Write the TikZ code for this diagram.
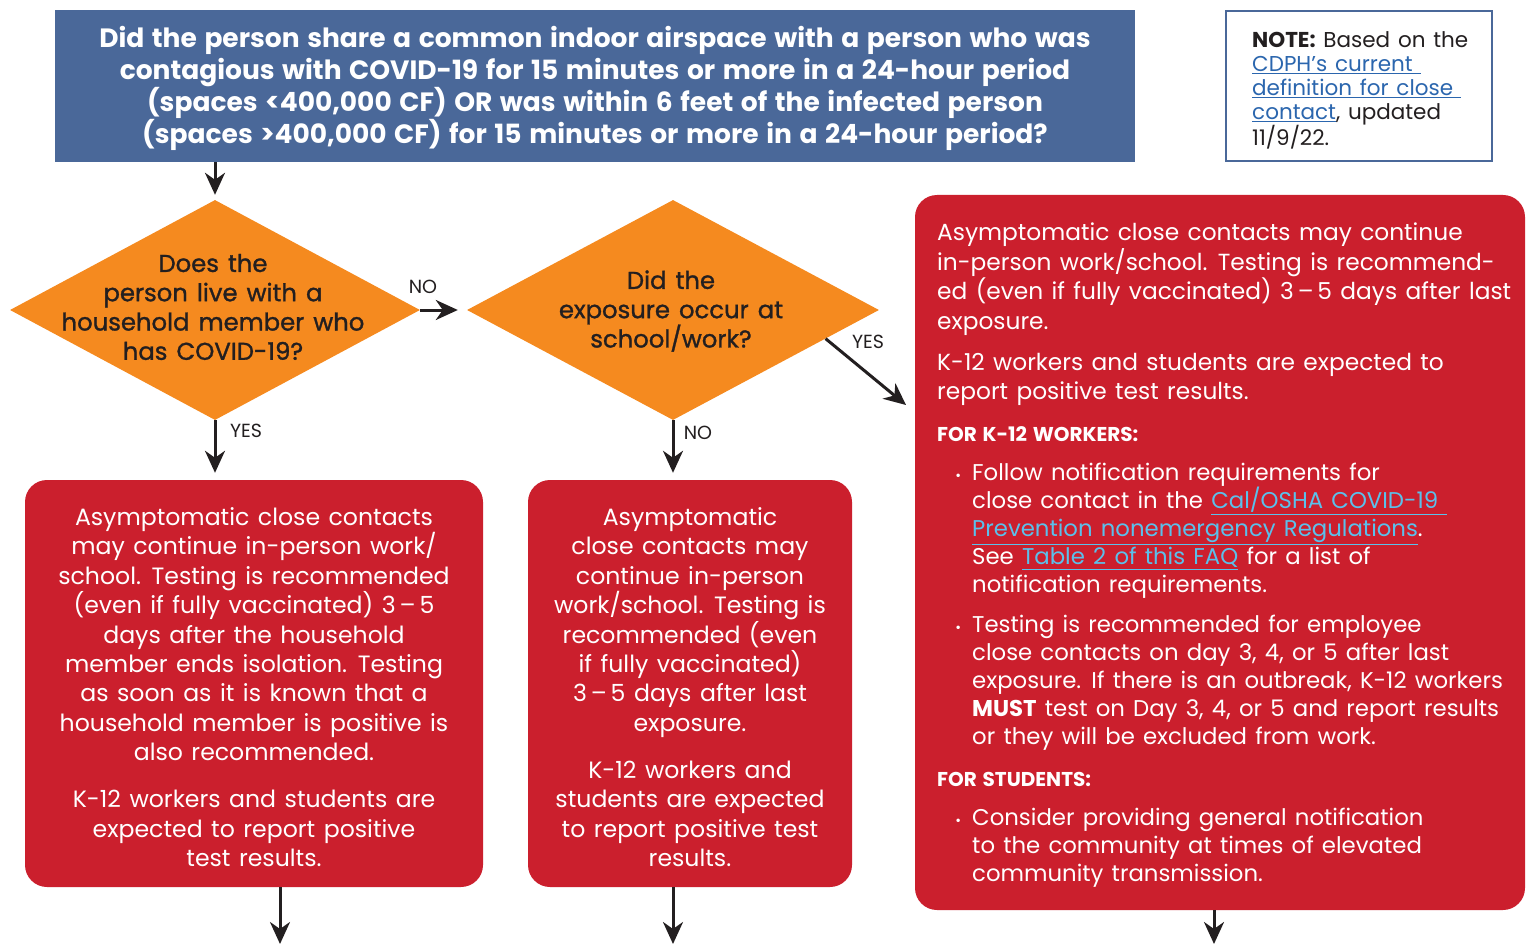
\documentclass[tikz,border=0pt]{standalone}
\usepackage{fontspec}
\setmainfont{Poppins}[WordSpace=1.35]
\newfontfamily\semib[FakeBold=1.2,WordSpace=1.4]{Poppins}
\usetikzlibrary{arrows.meta,shapes.geometric,calc}
\definecolor{tblue}{HTML}{4A6899}
\definecolor{dorange}{HTML}{F58A1F}
\definecolor{rbox}{HTML}{CB1F2D}
\definecolor{ink}{HTML}{231F20}
\definecolor{lnkdark}{HTML}{2B66AE}
\definecolor{lnklight}{HTML}{5BC0EB}
\newcommand\darklink[1]{\textcolor{lnkdark}{\underline{#1}}}
\newcommand\lightlink[1]{\textcolor{lnklight}{\underline{#1}}}
\newcommand\bodyfont{\fontsize{23.6}{29.4}\selectfont}
\newcommand\rightfont{\fontsize{23.3}{29.4}\selectfont}
\newcommand\bulfont{\fontsize{22.8}{28}\selectfont}
\newcommand\rng{3\,–\,5}
\newcommand\mybul{\noindent\llap{{\fontsize{14}{14}\selectfont\textbullet}\hspace{11pt}}}
\newcommand\topstrut{\rule{0pt}{25pt}}
\tikzset{
  titlebox/.style={fill=tblue, text=white, align=center, inner sep=0pt,
    font=\fontsize{26.5}{32}\selectfont\bfseries},
  decision/.style={diamond, fill=dorange, inner sep=0pt},
  dtext/.style={text=ink, align=center, inner sep=0pt, font=\fontsize{24.3}{29.3}\selectfont\semib},
  redbox/.style={fill=rbox, rounded corners=22pt, text=white, align=center, inner sep=0pt,
    font=\bodyfont},
  notebox/.style={draw=tblue, line width=2.5pt, fill=white},
  lbl/.style={text=ink, inner sep=0pt, font=\fontsize{19}{19}\selectfont},
  arr/.style={draw=ink, line width=3pt, -{Stealth[length=22pt,width=20pt,inset=7pt]}},
}
\begin{document}
\begin{tikzpicture}[x=1pt,y=-1pt]
\useasboundingbox (0,0) rectangle (1534,944);

% title
\node[titlebox, minimum width=1080pt, minimum height=152pt] (title) at (595,86)
 {\rule{0pt}{26pt}Did the person share a common indoor airspace with a person who was\\
  contagious with COVID-19 for 15 minutes or more in a 24-hour period\\
  (spaces <400,000 CF) OR was within 6 feet of the infected person\\
  (spaces >400,000 CF) for 15 minutes or more in a 24-hour period?};

% note
\node[notebox, minimum width=266pt, minimum height=150pt] (note) at (1359,86) {};
\node[anchor=north west, align=left, inner sep=0pt, text=ink,
  font=\fontsize{21.5}{24}\selectfont] (notetext) at (1252,31)
 {\textbf{NOTE:} Based on the\\
  \darklink{CDPH’s current }\\
  \darklink{definition for close }\\
  \darklink{contact}, updated\\
  11/9/22.};

% diamonds
\node[decision, minimum width=410pt, minimum height=220pt] (d1) at (215,310) {};
\node[dtext] (d1text) at (213,307)
 {Does the\\person live with a\\household member who\\has COVID-19?};
\node[decision, minimum width=412pt, minimum height=220pt] (d2) at (673,310) {};
\node[dtext] (d2text) at (671,311)
 {Did the\\exposure occur at\\school/work?};

% red boxes
\node[redbox, minimum width=458pt, minimum height=407pt] (box1) at (254,683.5)
 {\topstrut Asymptomatic close contacts\\
  may continue in-person work/\\
  school. Testing is recommended\\
  (even if fully vaccinated) \rng\\
  days after the household\\
  member ends isolation. Testing\\
  as soon as it is known that a\\
  household member is positive is\\
  also recommended.\\[17.6pt]
  K-12 workers and students are\\
  expected to report positive\\
  test results.};

\node[redbox, minimum width=324pt, minimum height=407pt] (box2) at (690,683.5)
 {\topstrut Asymptomatic\\
  close contacts may\\
  continue in-person\\
  work/school. Testing is\\
  recommended (even\\
  if fully vaccinated)\\
  \rng{} days after last\\
  exposure.\\[17.6pt]
  K-12 workers and\\
  students are expected\\
  to report positive test\\
  results.};

\node[redbox, minimum width=610pt, minimum height=715pt] (box3) at (1220,552.5) {};
\node[anchor=north west, text width=600pt, inner sep=0pt, text=white, align=left] (t3) at (937,223) {%
\setlength{\parindent}{0pt}\spaceskip=0pt\xspaceskip=0pt%
{\rightfont Asymptomatic close contacts may continue\\
in-person work/school. Testing is recommend-\\
ed (even if fully vaccinated) \rng{} days after last\\
exposure.\par}
\vspace{11.6pt}
{\rightfont K-12 workers and students are expected to\\
report positive test results.\par}
\vspace{12.6pt}
{\fontsize{20}{29.4}\selectfont\bfseries FOR K-12 WORKERS:\par}
\vspace{11pt}
{\bulfont\leftskip=35pt \mybul Follow notification requirements for\\
close contact in the \lightlink{Cal/OSHA COVID-19 }\\
\lightlink{Prevention nonemergency Regulations}.\\
See \lightlink{Table 2 of this FAQ} for a list of\\
notification requirements.\par}
\vspace{12pt}
{\bulfont\leftskip=35pt \mybul Testing is recommended for employee\\
close contacts on day 3, 4, or 5 after last\\
exposure. If there is an outbreak, K-12 workers\\
\textbf{MUST} test on Day 3, 4, or 5 and report results\\
or they will be excluded from work.\par}
\vspace{12.6pt}
{\fontsize{20}{29.4}\selectfont\bfseries FOR STUDENTS:\par}
\vspace{11pt}
{\bulfont\leftskip=35pt \mybul Consider providing general notification\\
to the community at times of elevated\\
community transmission.\par}
};

% connectors
\draw[arr, shorten >=5pt] (d1.north |- title.south) -- (d1.north);
\draw[arr, shorten >=9pt] (d1.east) -- (d2.west);
\node[lbl] (lno1) at (423,287) {NO};
\draw[arr, shorten >=7pt] (d1.south) -- (d1.south |- box1.north);
\node[lbl] (lyes1) at (246,431) {YES};
\draw[arr, shorten >=7pt] (d2.south) -- (d2.south |- box2.north);
\node[lbl] (lno2) at (698,433) {NO};
\coordinate (yesA) at ($(d2.east)!0.26!(d2.south)$);
\coordinate (yesB) at (906,405);
\draw[arr] (yesA) -- (yesB);
\node[lbl] (lyes2) at (868,342) {YES};

\coordinate (out1) at (280,944);
\coordinate (out2) at (673,944);
\coordinate (out3) at (1214,944);
\draw[arr] (out1 |- box1.south) -- (out1);
\draw[arr] (out2 |- box2.south) -- (out2);
\draw[arr] (out3 |- box3.south) -- (out3);
\end{tikzpicture}
\end{document}
